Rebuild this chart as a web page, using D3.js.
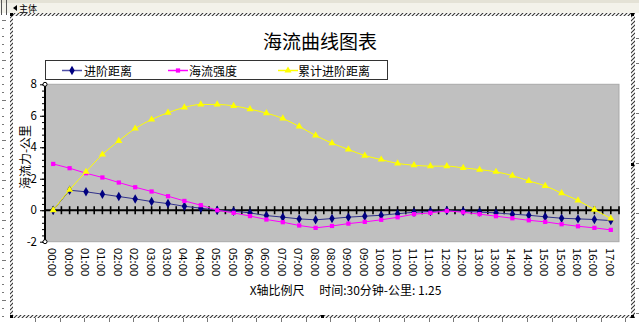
<!DOCTYPE html>
<html><head><meta charset="utf-8">
<script src="https://cdn.jsdelivr.net/npm/d3@7"></script>
<style>html,body{margin:0;padding:0;background:#fff;overflow:hidden}svg{display:block}text{font-family:"Noto Sans CJK SC","Noto Sans",sans-serif}</style>
</head><body>
<svg id="c" width="639" height="322"></svg>
<script>
// ---------- data ----------
const categories = ["00:00","00:00","01:00","01:00","02:00","02:00","03:00","03:00","04:00","04:00",
  "05:00","05:00","06:00","06:00","07:00","07:00","08:00","08:00","09:00","09:00",
  "10:00","10:00","11:00","11:00","12:00","12:00","13:00","13:00","14:00","14:00",
  "15:00","15:00","16:00","16:00","17:00"];
const advanceDist = [0, 1.27, 1.17, 1.02, 0.87, 0.72, 0.55, 0.42, 0.25, 0.13,
  0.0, -0.06, -0.17, -0.34, -0.44, -0.55, -0.61, -0.53, -0.44, -0.38,
  -0.32, -0.22, -0.13, -0.08, -0.02, -0.06, -0.12, -0.17, -0.25, -0.32,
  -0.42, -0.51, -0.55, -0.59, -0.66];
const currentStrength = [2.94, 2.67, 2.35, 2.08, 1.76, 1.46, 1.19, 0.89, 0.59, 0.32,
  0.0, -0.17, -0.37, -0.59, -0.76, -0.97, -1.12, -1.0, -0.85, -0.74,
  -0.61, -0.45, -0.25, -0.17, -0.04, -0.13, -0.25, -0.38, -0.51, -0.64,
  -0.74, -0.89, -1.02, -1.12, -1.25];
const cumulativeDist = [0, 1.3, 2.44, 3.54, 4.4, 5.19, 5.76, 6.2, 6.53, 6.72,
  6.72, 6.63, 6.42, 6.17, 5.83, 5.32, 4.75, 4.26, 3.86, 3.47,
  3.22, 2.97, 2.86, 2.80, 2.80, 2.69, 2.58, 2.44, 2.20, 1.86,
  1.55, 1.08, 0.62, 0.04, -0.53];
const seriesNames = ["进阶距离", "海流强度", "累计进阶距离"];
const yTicks = [-2, 0, 2, 4, 6, 8];
const titleText = "海流曲线图表";
const yTitle = "海流力-公里";
const xTitle = "X轴比例尺\u2003 时间:30分钟-公里: 1.25";
const sectionLabel = "主体";

// ---------- setup ----------
const svg = d3.select("#c");
const W = 639, H = 322;
const defs = svg.append("defs");
const pat = defs.append("pattern").attr("id","hatch").attr("width",4).attr("height",4)
  .attr("patternUnits","userSpaceOnUse");
pat.append("rect").attr("width",4).attr("height",4).attr("fill","#fff");
pat.append("path").attr("d","M-1,1 l2,-2 M0,4 l4,-4 M3,5 l2,-2").attr("stroke","#333").attr("stroke-width",1.1);

// design-frame decorations
svg.append("rect").attr("x",0).attr("y",0).attr("width",W).attr("height",13).attr("fill","#f3f2ea");
svg.append("rect").attr("x",0).attr("y",0).attr("width",W).attr("height",3).attr("fill","#e4e2d6");
svg.append("line").attr("x1",1.5).attr("x2",1.5).attr("y1",0).attr("y2",15).attr("stroke","#555");
svg.append("line").attr("x1",6.5).attr("x2",6.5).attr("y1",0).attr("y2",15).attr("stroke","#555");
svg.append("path").attr("d","M13,8 l4,-3 v6 z").attr("fill","#000");
svg.append("text").attr("x",19).attr("y",12).attr("font-size",9).attr("fill","#000").text(sectionLabel);
// left ruler ticks
svg.append("g").selectAll("line").data(d3.range(20, 318, 8)).join("line")
  .attr("x1",2).attr("x2",d=>((d-20)/8)%5===0?6:4).attr("y1",d=>d+0.5).attr("y2",d=>d+0.5)
  .attr("stroke","#777");
// right ruler ticks
svg.append("g").selectAll("line").data(d3.range(38, 318, 25)).join("line")
  .attr("x1",636).attr("x2",639).attr("y1",d=>d+0.5).attr("y2",d=>d+0.5).attr("stroke","#777");
// bottom ruler ticks
svg.append("g").selectAll("line").data(d3.range(35, 639, 24.6)).join("line")
  .attr("x1",d=>Math.round(d)+0.5).attr("x2",d=>Math.round(d)+0.5).attr("y1",318).attr("y2",322).attr("stroke","#777");
// hatched borders
svg.append("rect").attr("x",10).attr("y",13).attr("width",625).attr("height",3).attr("fill","url(#hatch)");
svg.append("rect").attr("x",10).attr("y",315).attr("width",625).attr("height",3).attr("fill","url(#hatch)");
svg.append("rect").attr("x",10).attr("y",13).attr("width",3).attr("height",305).attr("fill","url(#hatch)");
svg.append("rect").attr("x",631).attr("y",13).attr("width",4).attr("height",305).attr("fill","url(#hatch)");
[[10,13],[631,13],[631,163],[10,315],[321,315],[631,315]].forEach(([hx,hy])=>{
  svg.append("rect").attr("x",hx).attr("y",hy).attr("width",3).attr("height",3).attr("fill","#000");
});

// ---------- chart ----------
const x = d3.scaleBand().domain(d3.range(categories.length)).range([45, 619]);
const bw = x.bandwidth();
const cx = i => x(i) + bw / 2;
const y = d3.scaleLinear().domain([-2, 8]).range([241.7, 84.3]);

svg.append("text").attr("x",320).attr("y",49).attr("text-anchor","middle")
  .attr("font-size",19).attr("fill","#000").text(titleText);

// plot background
svg.append("rect").attr("x",45).attr("y",y(8)).attr("width",574).attr("height",y(-2)-y(8))
  .attr("fill","#c0c0c0").attr("stroke","#a9a9a9").attr("stroke-width",1);

// y axis
const yMinor = svg.append("g").attr("transform","translate(45,0)")
  .call(d3.axisLeft(y).tickValues(d3.range(-2, 8.001, 0.4)).tickSize(3).tickFormat(""));
yMinor.select(".domain").remove();
yMinor.selectAll("line").attr("stroke","#000");
const yAx = svg.append("g").attr("transform","translate(45,0)")
  .call(d3.axisLeft(y).tickValues(yTicks).tickSize(5).tickPadding(3).tickFormat(d3.format("d")));
yAx.select(".domain").attr("stroke","#000").attr("stroke-width",2).attr("d",`M0,${y(8)}V${y(-2)}`);
yAx.selectAll("line").attr("stroke","#000");
yAx.selectAll("text").attr("font-size",11.5).attr("fill","#000")
  .style("font-family",'"Noto Sans CJK SC",sans-serif').text(d=>String(d));
[8,-2].forEach(v=>svg.append("circle").attr("cx",45).attr("cy",y(v)).attr("r",2)
  .attr("fill","#fff").attr("stroke","#000").attr("stroke-width",1));

svg.append("text").attr("transform",`translate(24.5,157) rotate(-90)`).attr("text-anchor","middle")
  .attr("dominant-baseline","central").attr("font-size",12).attr("fill","#000").text(yTitle);

// zero line with crossing ticks
const y0 = y(0);
svg.append("line").attr("x1",45).attr("x2",619).attr("y1",y0).attr("y2",y0)
  .attr("stroke","#000").attr("stroke-width",2);
const tickPos = [];
categories.forEach((c,i)=>{ tickPos.push(x(i)); tickPos.push(cx(i)); });
tickPos.push(619);
svg.append("g").selectAll("line").data(tickPos).join("line")
  .attr("x1",d=>d).attr("x2",d=>d).attr("y1",y0-4).attr("y2",y0+4)
  .attr("stroke","#000").attr("stroke-width",1.6);

// x labels
svg.append("g").selectAll("text").data(categories).join("text")
  .attr("transform",(d,i)=>`translate(${cx(i)-1},248) rotate(90)`)
  .attr("dy","0.35em").attr("font-size",11.3).attr("fill","#000").text(d=>d);

svg.append("text").attr("x",345.5).attr("y",289).attr("text-anchor","middle")
  .attr("dominant-baseline","central").attr("font-size",12).attr("fill","#000")
  .text(xTitle);

// series
const series = [
  {name: seriesNames[0], values: advanceDist, color: "#000080", line: "#30308a", leg: "#5050a8", sym: d3.symbolDiamond, size: 26, curve: d3.curveLinear},
  {name: seriesNames[1], values: currentStrength, color: "#ff00ff", line: "#ff00ff", leg: "#ff00ff", sym: d3.symbolSquare, size: 18, curve: d3.curveLinear},
  {name: seriesNames[2], values: cumulativeDist, color: "#ffff00", line: "#ffff00", leg: "#ffff00", sym: d3.symbolTriangle, size: 22, curve: d3.curveMonotoneX}
];
series.forEach(s=>{
  const line = d3.line().x((d,i)=>cx(i)).y(d=>y(d)).curve(s.curve);
  svg.append("path").datum(s.values).attr("d",line).attr("fill","none")
    .attr("stroke",s.line).attr("stroke-width",1);
  svg.append("g").selectAll("path").data(s.values).join("path")
    .attr("transform",(d,i)=>`translate(${cx(i)},${y(d)})`)
    .attr("d",d3.symbol().type(s.sym).size(s.size)).attr("fill",s.color);
});

// legend
const lg = svg.append("g");
lg.append("rect").attr("x",45.5).attr("y",60.5).attr("width",342).attr("height",19)
  .attr("fill","#fff").attr("stroke","#333").attr("stroke-width",1);
const legPos = [{lx:62, tx:84}, {lx:168, tx:189}, {lx:278, tx:298}];
series.forEach((s,k)=>{
  const p = legPos[k];
  lg.append("line").attr("x1",p.lx).attr("x2",p.lx+20).attr("y1",70.5).attr("y2",70.5)
    .attr("stroke",s.leg).attr("stroke-width",1.5);
  lg.append("path").attr("transform",`translate(${p.lx+10},70.5)`)
    .attr("d",d3.symbol().type(s.sym).size(s.size)).attr("fill",s.color);
  lg.append("text").attr("x",p.tx).attr("y",70.5).attr("dominant-baseline","central")
    .attr("font-size",12).attr("fill","#000").text(s.name);
});
</script></body></html>
